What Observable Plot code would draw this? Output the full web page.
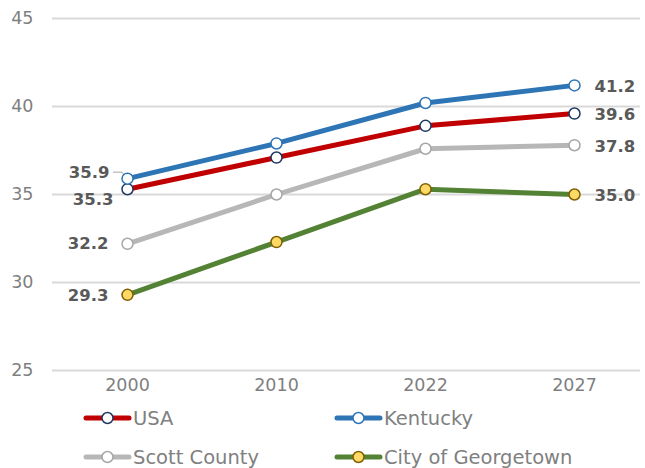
<!DOCTYPE html>
<html><head><meta charset="utf-8">
<script src="https://cdn.jsdelivr.net/npm/d3@7"></script>
<script src="https://cdn.jsdelivr.net/npm/@observablehq/plot@0.6"></script>
<style>
body{margin:0;background:#fff;font-family:"DejaVu Sans",sans-serif;}
#legend{display:grid;grid-template-columns:251px 260px;margin-left:83px;row-gap:17px;margin-top:7px;}
.item{display:flex;align-items:center;font-size:19.5px;color:#808080;height:22px;}
.item svg{margin-right:1px;}
</style></head>
<body><div id="chart"></div><div id="legend"></div>
<script>
const years = ["2000","2010","2022","2027"];
const seriesNames = ["USA","Kentucky","Scott County","City of Georgetown"];
const usa = [35.3, 37.1, 38.9, 39.6];
const kentucky = [35.9, 37.9, 40.2, 41.2];
const scott = [32.2, 35.0, 37.6, 37.8];
const georgetown = [29.3, 32.3, 35.3, 35.0];
const yTicks = [25, 30, 35, 40, 45];

const lineColors = {"USA":"#c00000","Kentucky":"#2e75b6","Scott County":"#b7b7b7","City of Georgetown":"#548235"};
const dotFill = {"USA":"#ffffff","Kentucky":"#ffffff","Scott County":"#ffffff","City of Georgetown":"#ffd966"};
const dotStroke = {"USA":"#1f3864","Kentucky":"#2e75b6","Scott County":"#a6a6a6","City of Georgetown":"#7f6000"};

const allVals = [usa, kentucky, scott, georgetown];
const data = [];
seriesNames.forEach((s,i)=>years.forEach((y,j)=>data.push({series:s, year:y, value:allVals[i][j], idx:j})));

// label offsets (styling, not data)
const leftOff = {"USA":[-14,10],"Kentucky":[-18,-6],"Scott County":[-19,0],"City of Georgetown":[-19,1]};
const firstPts = data.filter(d=>d.idx===0);
const lastPts = data.filter(d=>d.idx===3);

const marks = [
  Plot.gridY(yTicks, {stroke:"#d9d9d9", strokeOpacity:1, strokeWidth:2}),
  Plot.axisY(yTicks, {tickSize:0, tickPadding:19, fontSize:17.5, fill:"#7f7f7f", label:null, tickFormat:d=>String(d)}),
  Plot.axisX({tickSize:0, tickPadding:8, fontSize:17.5, fill:"#7f7f7f", label:null})
];
seriesNames.forEach(s=>{
  const d = data.filter(e=>e.series===s);
  marks.push(Plot.line(d, {x:"year", y:"value", stroke:lineColors[s], strokeWidth:5}));
});
seriesNames.forEach(s=>{
  const d = data.filter(e=>e.series===s);
  marks.push(Plot.dot(d, {x:"year", y:"value", r:5.5, fill:dotFill[s], stroke:dotStroke[s], strokeWidth:1.5}));
});
seriesNames.forEach(s=>{
  const [dx,dy] = leftOff[s];
  marks.push(Plot.text(firstPts.filter(d=>d.series===s), {x:"year", y:"value", text:d=>d.value.toFixed(1), dx, dy, textAnchor:"end", fontSize:16.5, fontWeight:"bold", fill:"#595959"}));
});
marks.push(Plot.text(lastPts, {x:"year", y:"value", text:d=>d.value.toFixed(1), dx:20, dy:1, textAnchor:"start", fontSize:16.5, fontWeight:"bold", fill:"#595959"}));

const chart = Plot.plot({
  width:645, height:400,
  marginLeft:52, marginRight:5, marginTop:18, marginBottom:30,
  x:{type:"point", domain:years, range:[126,575], padding:0, axis:null},
  y:{domain:[25,45], axis:null},
  style:{fontFamily:"DejaVu Sans, sans-serif", background:"#fff"},
  marks
});
// leader line for the Kentucky 2000 label
const xs = chart.scale("x"), ys = chart.scale("y");
const kx = xs.apply("2000"), ky = ys.apply(kentucky[0]);
const ns = "http://www.w3.org/2000/svg";
const ln = document.createElementNS(ns,"path");
ln.setAttribute("d",`M${kx-14},${ky-6}L${kx-5},${ky-6}L${kx-1},${ky-1}`);
ln.setAttribute("stroke","#a6a6a6"); ln.setAttribute("fill","none"); ln.setAttribute("stroke-width","1");
const firstLine = chart.querySelector('[aria-label="line"]');
chart.insertBefore(ln, firstLine);
document.getElementById("chart").appendChild(chart);

const legend = document.getElementById("legend");
seriesNames.forEach(s=>{
  const div = document.createElement("div"); div.className="item";
  div.innerHTML = `<svg width="49" height="14"><line x1="3" y1="7" x2="46" y2="7" stroke="${lineColors[s]}" stroke-width="5" stroke-linecap="round"/><circle cx="24.5" cy="7" r="5.5" fill="${dotFill[s]}" stroke="${dotStroke[s]}" stroke-width="1.5"/></svg><span>${s}</span>`;
  legend.appendChild(div);
});
</script></body></html>
